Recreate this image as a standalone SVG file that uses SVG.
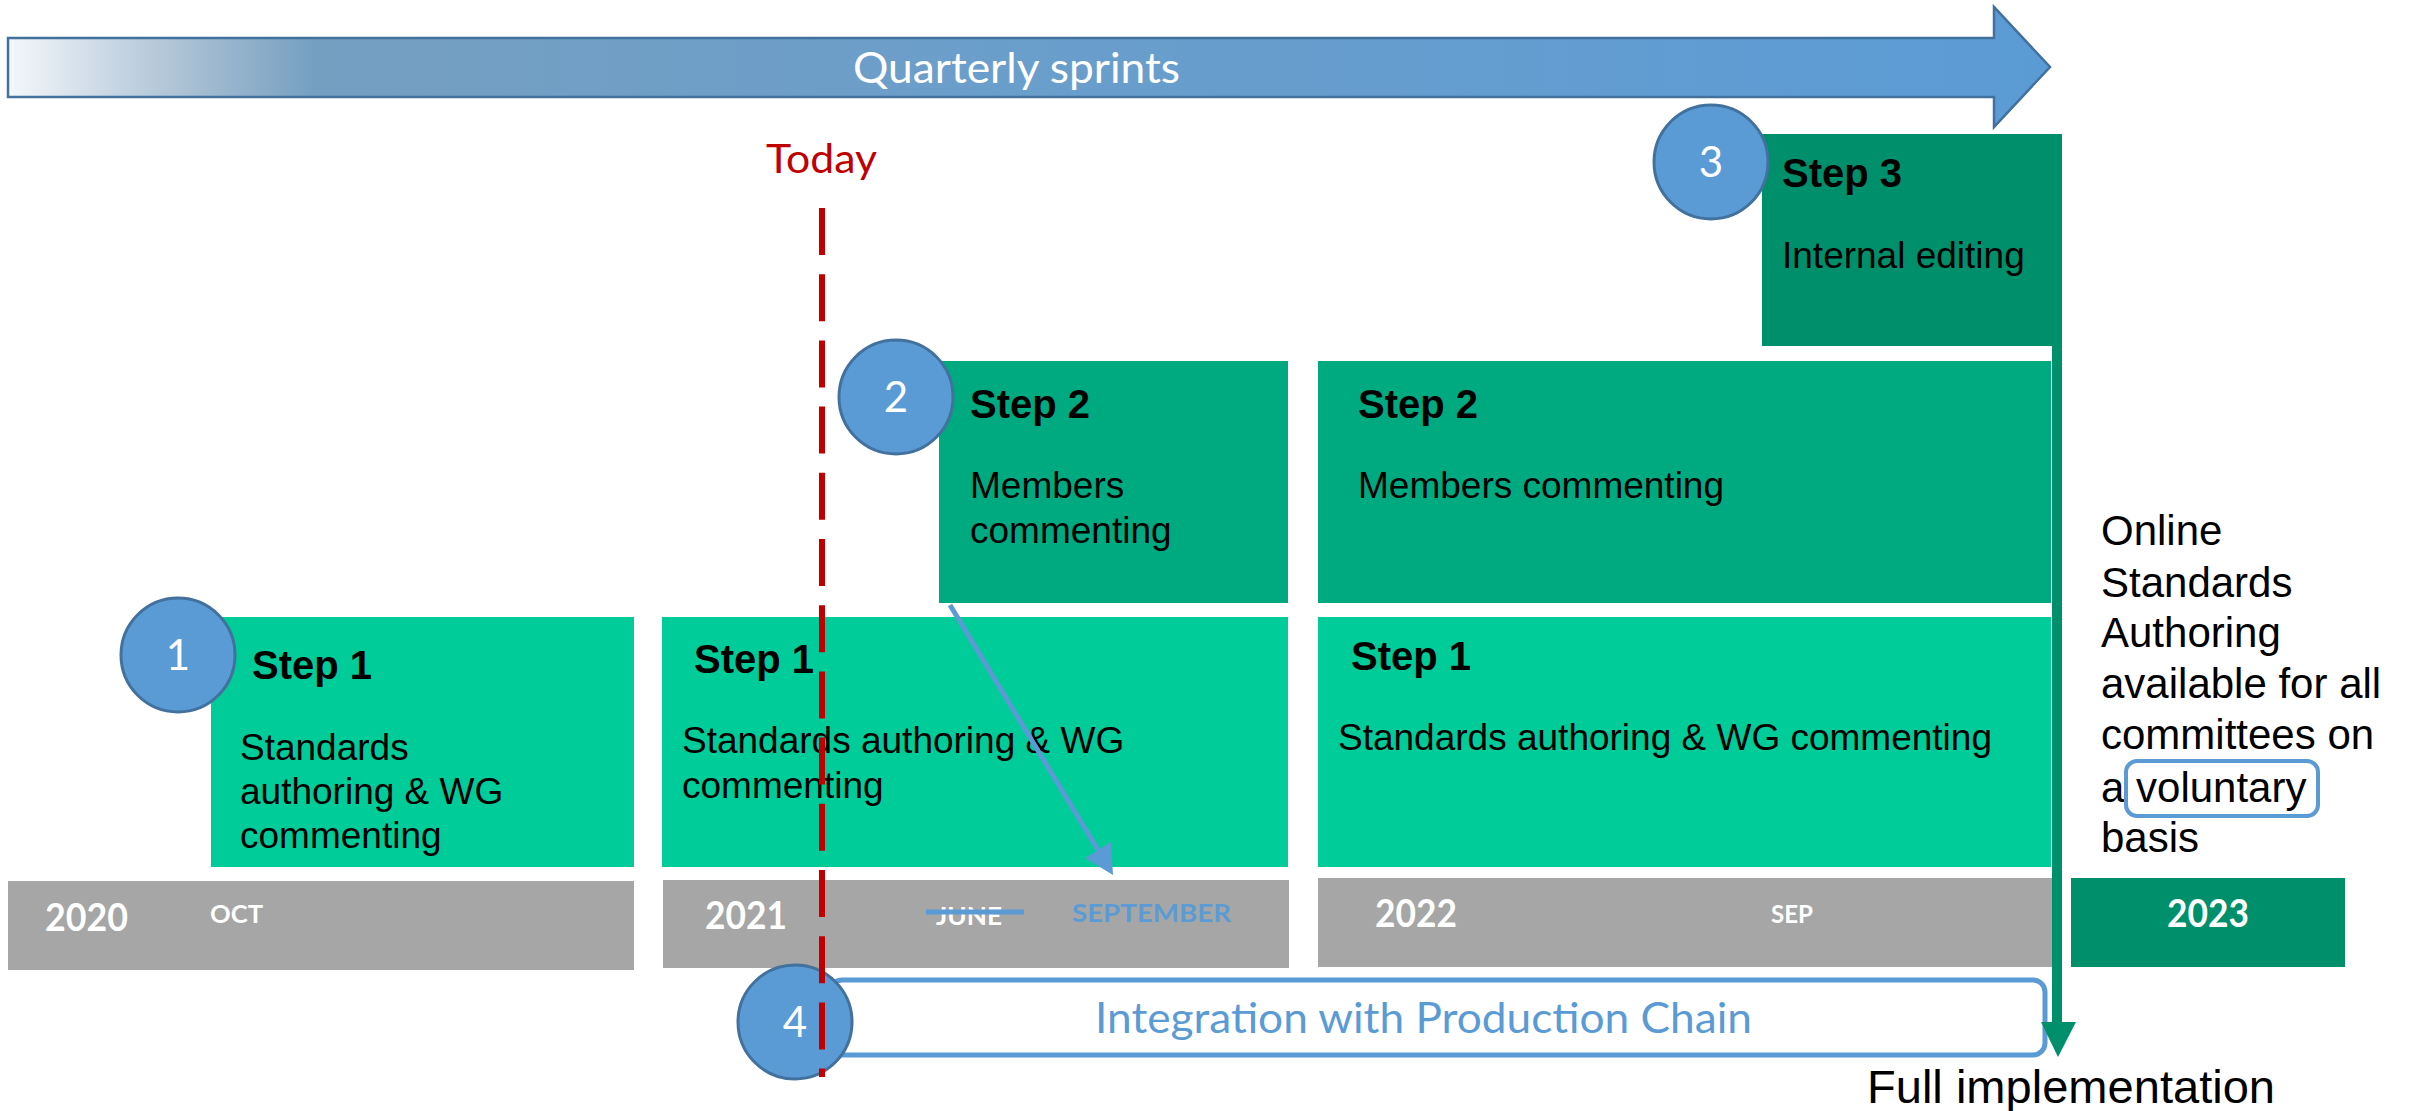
<svg xmlns="http://www.w3.org/2000/svg" width="2418" height="1111" viewBox="0 0 2418 1111">
<style>
.s1{fill:#00cc99}
.s2{fill:#00aa80}
.s3{fill:#008f6b}
.grey{fill:#a6a6a6}
.num{fill:#5b9bd5;stroke:#41719c;stroke-width:3}
.numt{font-family:Lato,"Open Sans",sans-serif;font-size:42px;fill:#fff;text-anchor:middle}
.head{font-family:"Liberation Sans",Arial,sans-serif;font-weight:bold;font-size:40px;fill:#000}
.body{font-family:"Liberation Sans",Arial,sans-serif;font-size:37px;fill:#000}
.side{font-family:"Liberation Sans",Arial,sans-serif;font-size:42px;fill:#000}
.yr{font-family:Lato,"Open Sans",sans-serif;font-weight:bold;font-size:38px;fill:#fff}
.mo{font-family:Lato,"Open Sans",sans-serif;font-weight:bold;font-size:25px;fill:#fff}
.cal{font-family:Lato,"Open Sans",sans-serif}
</style>
<defs>
<linearGradient id="sprintGrad" x1="8" y1="0" x2="2050" y2="0" gradientUnits="userSpaceOnUse">
<stop offset="0" stop-color="#f4f7fb"/>
<stop offset="0.05" stop-color="#c9d7e4"/>
<stop offset="0.1" stop-color="#9fb9cf"/>
<stop offset="0.15" stop-color="#759fc1"/>
<stop offset="0.5" stop-color="#6a9ecb"/>
<stop offset="1" stop-color="#5b9bd5"/>
</linearGradient>
</defs>

<g id="sprints">
<polygon points="8,38 1994,38 1994,7 2050,67 1994,127 1994,97 8,97" fill="url(#sprintGrad)" stroke="#41719c" stroke-width="2.5"/>
<text class="cal" x="853" y="83" font-size="42" fill="#fff" textLength="327" lengthAdjust="spacingAndGlyphs">Quarterly sprints</text>
</g>

<g id="today-label">
<text class="cal" x="766" y="173" font-size="41" fill="#c00000" textLength="111" lengthAdjust="spacingAndGlyphs">Today</text>
</g>

<g id="timeline">
<rect class="grey" x="8" y="881" width="626" height="89"/>
<text class="yr" x="45" y="931" textLength="83" lengthAdjust="spacingAndGlyphs">2020</text>
<text class="mo" x="210" y="923" textLength="53" lengthAdjust="spacingAndGlyphs">OCT</text>
<rect class="grey" x="663" y="880" width="626" height="88"/>
<text class="yr" x="705" y="929" textLength="82" lengthAdjust="spacingAndGlyphs">2021</text>
<text class="mo" x="936" y="925" textLength="66" lengthAdjust="spacingAndGlyphs">JUNE</text>
<line x1="926" y1="912" x2="1024" y2="912" stroke="#5b9bd5" stroke-width="5"/>
<text class="mo" x="1072" y="922" fill="#5b9bd5" style="fill:#5b9bd5" font-size="27" textLength="159" lengthAdjust="spacingAndGlyphs">SEPTEMBER</text>
<rect class="grey" x="1318" y="878" width="734" height="89"/>
<text class="yr" x="1375" y="927" textLength="82" lengthAdjust="spacingAndGlyphs">2022</text>
<text class="mo" x="1771" y="923" textLength="42" lengthAdjust="spacingAndGlyphs">SEP</text>
<rect class="s3" x="2071" y="878" width="274" height="89"/>
<text class="yr" x="2167" y="927" textLength="82" lengthAdjust="spacingAndGlyphs">2023</text>
</g>

<g id="step1-a">
<rect class="s1" x="211" y="617" width="423" height="250"/>
<text class="head" x="252" y="679">Step 1</text>
<text class="body" x="240" y="760">Standards</text>
<text class="body" x="240" y="804">authoring &amp; WG</text>
<text class="body" x="240" y="848">commenting</text>
</g>

<g id="step1-b">
<rect class="s1" x="662" y="617" width="626" height="250"/>
<text class="head" x="694" y="673">Step 1</text>
<text class="body" x="682" y="753">Standards authoring &amp; WG</text>
<text class="body" x="682" y="798">commenting</text>
</g>

<g id="step1-c">
<rect class="s1" x="1318" y="617" width="733" height="250"/>
<text class="head" x="1351" y="670">Step 1</text>
<text class="body" x="1338" y="750">Standards authoring &amp; WG commenting</text>
</g>

<g id="step2-a">
<rect class="s2" x="939" y="361" width="349" height="242"/>
<text class="head" x="970" y="418">Step 2</text>
<text class="body" x="970" y="498">Members</text>
<text class="body" x="970" y="543">commenting</text>
</g>

<g id="step2-b">
<rect class="s2" x="1318" y="361" width="733" height="242"/>
<text class="head" x="1358" y="418">Step 2</text>
<text class="body" x="1358" y="498">Members commenting</text>
</g>

<g id="step3">
<rect class="s3" x="1762" y="134" width="300" height="212"/>
<text class="head" x="1782" y="187">Step 3</text>
<text class="body" x="1782" y="268">Internal editing</text>
</g>

<g id="integration">
<rect x="830" y="980" width="1215" height="75" rx="12" ry="12" fill="#fff" stroke="#5b9bd5" stroke-width="5"/>
<text class="cal" x="1095" y="1033" font-size="42" fill="#5b9bd5" textLength="657" lengthAdjust="spacingAndGlyphs">Integration with Production Chain</text>
</g>

<g id="badge1"><circle class="num" cx="178" cy="655" r="57"/><text class="numt" x="178" y="670">1</text></g>
<g id="badge2"><circle class="num" cx="896" cy="397" r="57"/><text class="numt" x="896" y="412">2</text></g>
<g id="badge3"><circle class="num" cx="1711" cy="162" r="57"/><text class="numt" x="1711" y="177">3</text></g>
<g id="badge4"><circle class="num" cx="795" cy="1022" r="57"/><text class="numt" x="795" y="1037">4</text></g>

<g id="outcome">
<text class="side" x="2101" y="545">Online</text>
<text class="side" x="2101" y="597">Standards</text>
<text class="side" x="2101" y="647">Authoring</text>
<text class="side" x="2101" y="698">available for all</text>
<text class="side" x="2101" y="749">committees on</text>
<text class="side" x="2101" y="802">a voluntary</text>
<text class="side" x="2101" y="852">basis</text>
<rect x="2126" y="761" width="192" height="55" rx="11" ry="11" fill="none" stroke="#5b9bd5" stroke-width="4"/>
</g>

<g id="full-impl">
<text x="1867" y="1103" font-family="Liberation Sans, Arial, sans-serif" font-size="47" fill="#000" textLength="408" lengthAdjust="spacingAndGlyphs">Full implementation</text>
</g>

<g id="connectors">
<line x1="950" y1="605" x2="1098" y2="850" stroke="#5b9bd5" stroke-width="5"/>
<polygon points="1113,875 1085,858 1111,842" fill="#5b9bd5"/>
<line x1="2057" y1="134" x2="2057" y2="1025" stroke="#008f6b" stroke-width="10"/>
<polygon points="2041,1022 2076,1022 2058,1057" fill="#008f6b"/>
</g>

<g id="today-line">
<line x1="822" y1="208" x2="822" y2="1077" stroke="#c00000" stroke-width="6" stroke-dasharray="47 19.2"/>
</g>
</svg>
